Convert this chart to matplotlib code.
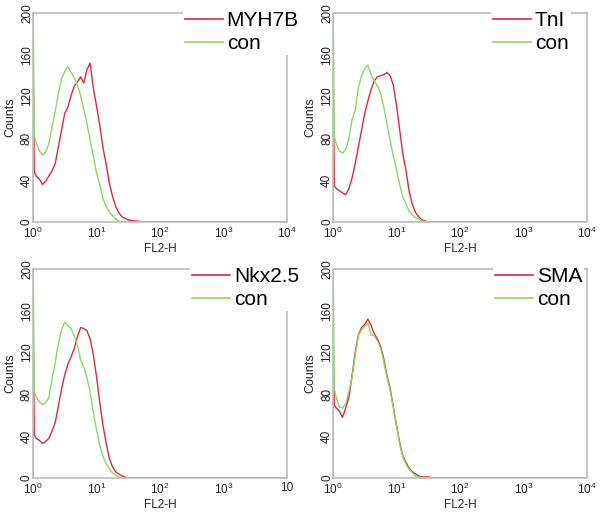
import numpy as np
import matplotlib
matplotlib.use("Agg")
import matplotlib.pyplot as plt

plt.rcParams['font.family'] = ['Liberation Sans', 'DejaVu Sans']

# FL2-H channel positions (log10 decades) shared by all histograms
fl2_log = [0.0, 0.0, 0.02, 0.05, 0.10, 0.15, 0.20, 0.25, 0.30, 0.35, 0.40, 0.45,
           0.50, 0.55, 0.60, 0.65, 0.70, 0.75, 0.80, 0.85, 0.90, 0.95, 1.00,
           1.05, 1.10, 1.15, 1.20, 1.25, 1.30, 1.35, 1.40, 1.50, 1.60, 1.80, 4.0]

markers = ['MYH7B', 'TnI', 'Nkx2.5', 'SMA']

# counts of stained samples (red)
myh7b = [0, 165, 48, 44, 41, 36, 39, 44, 49, 56, 72, 88, 104, 110, 121, 130,
         134, 139, 133, 146, 152, 128, 111, 93, 72, 56, 38, 25, 15, 9, 5, 2, 1, 0, 0]
tni = [0, 170, 35, 32, 30, 28, 26, 32, 42, 56, 72, 88, 104, 116, 127, 135,
       139, 140, 141, 143, 140, 131, 112, 88, 65, 49, 29, 17, 9, 5, 2, 0, 0, 0, 0]
nkx25 = [0, 165, 41, 38, 36, 33, 35, 38, 45, 53, 69, 85, 99, 109, 116, 124,
         135, 144, 143, 141, 133, 118, 97, 73, 51, 34, 19, 11, 6, 4, 2, 0, 0, 0, 0]
sma = [0, 130, 70, 67, 64, 58, 67, 77, 98, 120, 137, 144, 147, 152, 146, 138,
       133, 126, 114, 98, 86, 68, 50, 34, 21, 15, 9, 6, 4, 2, 1, 1, 0, 0, 0]

# counts of the isotype controls (green), one per panel
con_myh7b = [0, 230, 82, 76, 68, 64, 67, 75, 91, 106, 123, 137, 144, 149, 143,
             138, 131, 121, 108, 94, 78, 63, 47, 36, 23, 15, 10, 6, 3, 1, 0, 0, 0, 0, 0]
con_tni = [0, 230, 82, 75, 68, 66, 69, 80, 98, 107, 129, 140, 147, 150, 141,
           135, 130, 123, 110, 94, 78, 63, 50, 36, 24, 17, 10, 7, 4, 3, 1, 0, 0, 0, 0]
con_nkx25 = [0, 230, 82, 78, 73, 70, 72, 77, 95, 110, 129, 142, 149, 146, 143,
             136, 127, 113, 106, 96, 82, 63, 46, 31, 21, 14, 9, 5, 3, 1, 0, 0, 0, 0, 0]
con_sma = [0, 230, 86, 77, 68, 67, 71, 83, 96, 117, 136, 142, 145, 148, 137,
           136, 131, 124, 111, 96, 84, 67, 51, 32, 20, 13, 8, 5, 2, 1, 0, 0, 0, 0, 0]

stained = [myh7b, tni, nkx25, sma]
controls = [con_myh7b, con_tni, con_nkx25, con_sma]

red = '#dc2a3c'
green = '#8ed46a'
spine_gray = '#bcbcbc'

W, H = 600, 513
fig = plt.figure(figsize=(W / 100, H / 100), dpi=100)

# axes boxes in pixels: left, top, right, bottom
boxes = [(33, 13, 287, 222), (333, 13, 587, 222),
         (33, 269, 287, 478), (333, 269, 587, 478)]
legend_xy = [(183, 9), (491, 9), (190, 265), (493, 265)]

x = 10 ** np.array(fl2_log)

for i in range(4):
    l, t, r, b = boxes[i]
    ax = fig.add_axes([l / W, 1 - b / H, (r - l) / W, (b - t) / H])
    ax.plot(x, stained[i], color=red, lw=1.0, label=markers[i])
    ax.plot(x, controls[i], color=green, lw=1.0, label='con')
    ax.set_xscale('log')
    ax.set_xlim(1, 1e4)
    ax.set_ylim(0, 200)
    ax.set_yticks([0, 40, 80, 120, 160, 200])
    ax.set_xticks([1, 10, 100, 1000, 10000])
    ax.minorticks_off()
    if i == 2:
        ax.set_xticklabels([r'$\mathdefault{10^{0}}$', r'$\mathdefault{10^{1}}$',
                            r'$\mathdefault{10^{2}}$', r'$\mathdefault{10^{3}}$', '10'])
    ax.tick_params(axis='y', labelrotation=90, length=0, pad=0, labelsize=8.5,
                   labelcolor='#222222')
    ax.tick_params(axis='x', length=0, pad=3, labelsize=8.5, labelcolor='#222222')
    for lab in ax.get_yticklabels():
        lab.set_va('center')
    for s in ax.spines.values():
        s.set_color(spine_gray)
        s.set_linewidth(1.2)
    ax.set_xlabel('FL2-H', fontsize=8.5, labelpad=1, color='#222222')
    ax.set_ylabel('Counts', fontsize=9, labelpad=3, color='#222222')
    lx, ly = legend_xy[i]
    leg = ax.legend(loc='upper left', bbox_to_anchor=(lx / W, 1 - ly / H),
                    bbox_transform=fig.transFigure, fontsize=15, frameon=True,
                    framealpha=1, facecolor='white', edgecolor='none',
                    handlelength=1.8, handletextpad=0.2, labelspacing=0.2,
                    borderpad=0.1, borderaxespad=0, fancybox=False)
    leg.get_frame().set_linewidth(0)
    for line in leg.get_lines():
        line.set_linewidth(1.2)

fig.savefig('out.png', dpi=100)
